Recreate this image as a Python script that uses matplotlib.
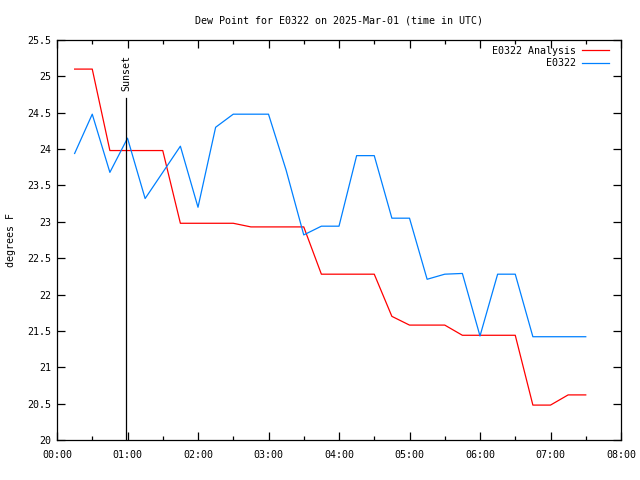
import matplotlib
matplotlib.use('Agg')
import matplotlib.pyplot as plt
import pandas as pd
import matplotlib.dates as mdates

# data, 15 minute steps from 00:15 UTC
times = pd.date_range('2025-03-01 00:15', '2025-03-01 07:30', freq='15min')

analysis = [25.1, 25.1, 23.98, 23.98, 23.98, 23.98, 22.98, 22.98, 22.98, 22.98,
            22.93, 22.93, 22.93, 22.93, 22.28, 22.28, 22.28, 22.28, 21.7, 21.58,
            21.58, 21.58, 21.44, 21.44, 21.44, 21.44, 20.48, 20.48, 20.62, 20.62]

obs = [23.94, 24.48, 23.68, 24.15, 23.32, 23.68, 24.04, 23.2, 24.3, 24.48,
       24.48, 24.48, 23.71, 22.82, 22.94, 22.94, 23.91, 23.91, 23.05, 23.05,
       22.21, 22.28, 22.29, 21.43, 22.28, 22.28, 21.42, 21.42, 21.42, 21.42]

sunset = pd.Timestamp('2025-03-01 00:59')
sunset_top = 24.7

x_start = pd.Timestamp('2025-03-01 00:00')
x_end = pd.Timestamp('2025-03-01 08:00')
y_ticks = [20, 20.5, 21, 21.5, 22, 22.5, 23, 23.5, 24, 24.5, 25, 25.5]
y_labels = ['20', '20.5', '21', '21.5', '22', '22.5', '23', '23.5', '24', '24.5', '25', '25.5']

plt.rcParams['font.family'] = 'DejaVu Sans Mono'
plt.rcParams['font.size'] = 7.2

fig = plt.figure(figsize=(6.4, 4.8), dpi=100)
ax = fig.add_axes([57/640, 40/480, 564/640, 400/480])

ax.plot(times, analysis, color='#ff0000', lw=0.9, label='E0322 Analysis')
ax.plot(times, obs, color='#0080ff', lw=0.9, label='E0322')

# sunset marker
ax.plot([sunset, sunset], [20, sunset_top], color='black', lw=0.9)
ax.text(sunset, sunset_top + 0.1, 'Sunset', rotation=90, ha='center', va='bottom', fontsize=7.2)

ax.set_xlim(x_start, x_end)
ax.set_ylim(20, 25.5)
ax.set_yticks(y_ticks)
ax.set_yticklabels(y_labels)
ax.xaxis.set_major_locator(mdates.HourLocator())
ax.xaxis.set_minor_locator(mdates.MinuteLocator(byminute=[30]))
ax.xaxis.set_major_formatter(mdates.DateFormatter('%H:%M'))
ax.tick_params(direction='in', which='both', top=True, right=True, length=6, width=0.9, labelsize=7.2)
ax.tick_params(which='minor', length=3)
ax.tick_params(axis='x', pad=7)
ax.tick_params(axis='y', pad=4)
for s in ax.spines.values():
    s.set_linewidth(0.9)

ax.set_ylabel('degrees F', fontsize=7.2)
ax.yaxis.set_label_coords(-0.073, 0.5)
ax.set_title('Dew Point for E0322 on 2025-Mar-01 (time in UTC)', fontsize=7.2, pad=12)

ax.legend(loc='upper right', bbox_to_anchor=(0.99, 1.0), frameon=False, markerfirst=False,
          handlelength=2.7, borderaxespad=0.2, labelspacing=0.25, handletextpad=0.6, fontsize=7.2)

fig.savefig('out.png', dpi=100)
